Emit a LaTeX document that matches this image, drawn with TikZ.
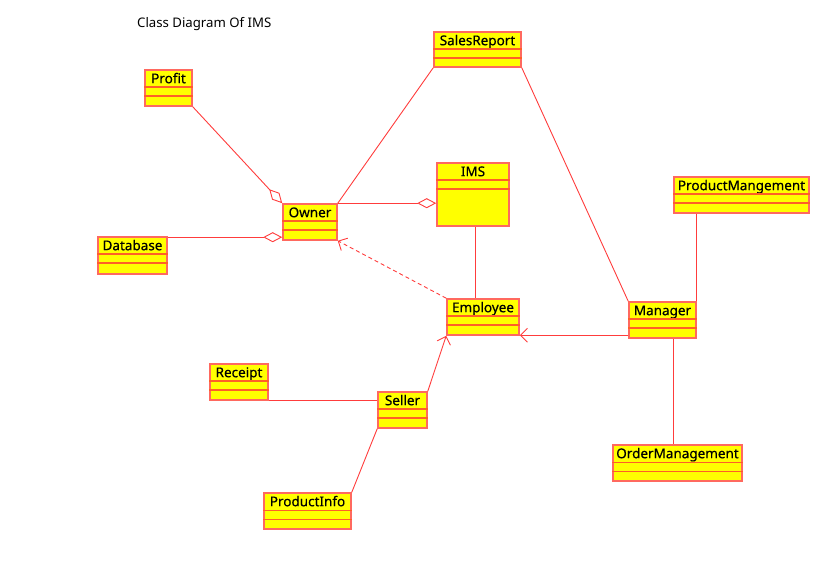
\documentclass[tikz,border=0pt]{standalone}
\usepackage{fontspec}
\setmainfont{Noto Sans}
\newfontfamily\lblfont[FakeBold=0.35]{Noto Sans}
\usetikzlibrary{arrows.meta}
\definecolor{boxfill}{RGB}{255,255,0}
\definecolor{boxline}{RGB}{255,105,95}
\definecolor{compcol}{RGB}{255,95,40}
\definecolor{linkcol}{RGB}{255,60,60}
\tikzset{
  clsbox/.style={draw=boxline, fill=boxfill, line width=1.6pt, inner sep=0pt, rectangle},
  clslabel/.style={font=\lblfont\fontsize{13.5}{15}\selectfont, text=black, inner sep=0pt, anchor=base},
  compline/.style={draw=compcol, line width=1.4pt},
  link/.style={draw=linkcol, line width=0.9pt},
  aggr/.style={link, -{Diamond[open, length=19pt, width=10pt, fill=white]}},
  nav/.style={link, -{Straight Barb[length=7pt, width=14pt]}},
  dep/.style={link, dashed, dash pattern=on 4pt off 3pt, -{Straight Barb[length=7pt, width=14pt]}},
}
\newcommand\umlclass[6]{%
  \node[clsbox, minimum width={#4-#2}, minimum height={#5-#3}] (#1) at ({(#2+#4)/2},{(#3+#5)/2}) {};
  \node[clslabel] (#1-t) at ([yshift=-14pt]#1.north) {#6};
  \draw[compline] ([yshift=-18pt]#1.north west) -- ([yshift=-18pt]#1.north east);
  \draw[compline] ([yshift=-27pt]#1.north west) -- ([yshift=-27pt]#1.north east);
}
\begin{document}
\begin{tikzpicture}[x=1pt, y=-1pt]
\useasboundingbox (0,0) rectangle (836,569);
\node[font=\fontsize{13.2}{15}\selectfont, anchor=base west, inner sep=0pt] (title) at (137,27.5) {Class Diagram Of IMS};
\umlclass{SalesReport}{434}{32}{521}{67}{SalesReport}
\umlclass{Profit}{145}{70}{192}{106}{Profit}
\umlclass{Owner}{283}{204}{337}{240}{Owner}
\umlclass{IMS}{437}{163}{509}{226}{IMS}
\umlclass{PM}{674}{177}{809}{213}{ProductMangement}
\umlclass{Database}{98}{237}{167}{274}{Database}
\umlclass{Employee}{447}{299}{519}{335}{Employee}
\umlclass{Manager}{629}{302}{696}{338}{Manager}
\umlclass{Receipt}{210}{364}{268}{400}{Receipt}
\umlclass{Seller}{378}{392}{427}{428}{Seller}
\umlclass{ProductInfo}{264}{493}{351}{529}{ProductInfo}
\umlclass{OM}{613}{445}{742}{481}{OrderManagement}
% connectors
\draw[aggr] (Profit.south east) -- (Owner.north west);
\draw[aggr] (Owner.north east) -- (Owner.north east -| IMS.west);
\draw[aggr] ([yshift=-1pt]Database.north east) -- ([yshift=-1pt]Database.north east -| Owner.west);
\draw[link] (Owner.north east) -- (SalesReport.south west);
\draw[link] (SalesReport.south east) -- (Manager.north west);
\draw[link] ([xshift=2pt]IMS.south) -- ([xshift=2pt]IMS.south |- Employee.north);
\draw[link] (Manager.north east) -- (Manager.north east |- PM.south);
\draw[link] ([xshift=-4.5pt]OM.north) -- ([xshift=-4.5pt]OM.north |- Manager.south);
\draw[nav] ([yshift=0.5pt]Employee.south east -| Manager.west) -- ([yshift=0.5pt]Employee.south east);
\draw[dep] (Employee.north west) -- (Owner.south east);
\draw[nav] (Seller.north east) -- (Employee.south west);
\draw[link] (Receipt.south east) -- (Receipt.south east -| Seller.west);
\draw[link] (ProductInfo.north east) -- (Seller.south west);
\end{tikzpicture}
\end{document}
